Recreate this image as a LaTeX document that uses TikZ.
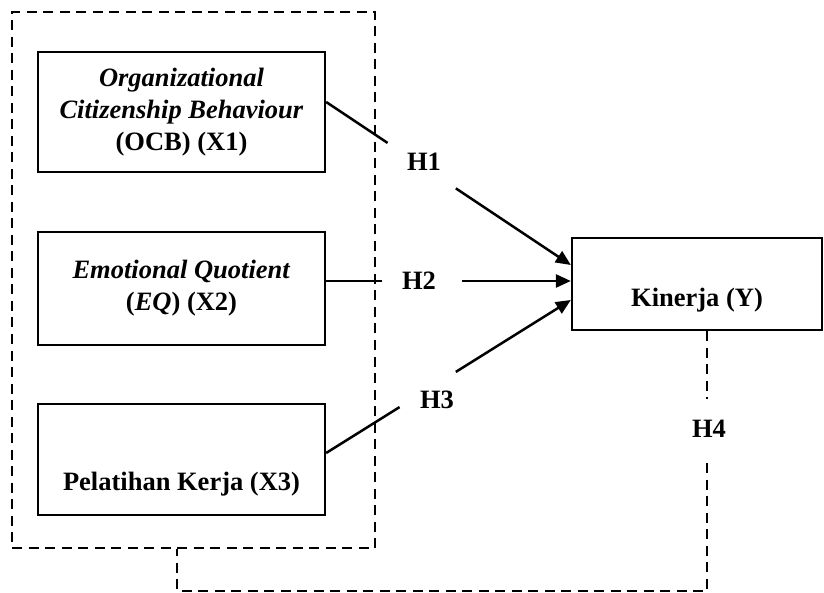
\documentclass[tikz,border=0pt]{standalone}
\usepackage{fontspec}
\setmainfont{Liberation Serif}
\usetikzlibrary{arrows.meta,calc}
\begin{document}
\begin{tikzpicture}[x=1pt,y=-1pt,
  varbox/.style={draw, line width=2.3pt, minimum width=287pt, align=center, inner sep=0pt,
    font=\bfseries\fontsize{26.5}{32}\selectfont},
  hlabel/.style={font=\bfseries\fontsize{26.5}{32}\selectfont, inner sep=0pt},
  conn/.style={line width=2.5pt},
  arr/.style={line width=2.5pt, -{Triangle[length=15pt,width=13pt]}},
  dashline/.style={line width=2.4pt, dash pattern=on 10pt off 6.5pt}]
\useasboundingbox (0,0) rectangle (824,593);
% dashed group box
\node[draw, dashline, minimum width=363pt, minimum height=536pt, inner sep=0pt] (grp) at (193.5,280) {};
% variable boxes
\node[varbox, minimum height=120pt] (x1) at (181.5,112)
  {\textit{Organizational}\\\textit{Citizenship Behaviour}\\(OCB) (X1)};
\node[varbox, minimum height=113pt] (x2) at (181.5,288.5)
  {\textit{Emotional Quotient}\\(\textit{EQ}) (X2)};
\node[varbox, minimum height=111pt, text height=67pt, text depth=6pt] (x3) at (181.5,459.5)
  {Pelatihan Kerja (X3)};
\node[varbox, minimum width=250pt, minimum height=92pt, text height=52pt, text depth=6pt] (kin) at (697,284)
  {Kinerja (Y)};
% labels
\node[hlabel] (h1) at (424,162) {H1};
\node[hlabel] (h2) at (419,281) {H2};
\node[hlabel] (h3) at (437,400) {H3};
\node[hlabel] (h4) at (709,429) {H4};
% H1
\coordinate (a1) at ($(x1.east)+(0,-10)$);
\coordinate (b1) at ($(kin.west)+(0,-19)$);
\draw[conn] (a1) -- ($(a1)!0.251!(b1)$);
\draw[arr] ($(a1)!0.53!(b1)$) -- (b1);
% H2
\coordinate (a2) at ($(x2.east)+(0,-7.5)$);
\coordinate (b2) at ($(kin.west)+(0,-3)$);
\draw[conn] (a2) -- ($(a2)!0.227!(b2)$);
\draw[arr] ($(a2)!0.555!(b2)$) -- (b2);
% H3
\coordinate (a3) at ($(x3.east)+(0,-6.5)$);
\coordinate (b3) at ($(kin.west)+(0,16)$);
\draw[conn] (a3) -- ($(a3)!0.30!(b3)$);
\draw[arr] ($(a3)!0.53!(b3)$) -- (b3);
% H4
\coordinate (k4) at ($(kin.south)+(10,0)$);
\coordinate (g4) at ($(grp.south)+(-16.5,0)$);
\draw[dashline] (k4) -- ++(0,68);
\draw[dashline] ($(k4)+(0,132)$) -- ($(k4)+(0,260)$) -| (g4);
\end{tikzpicture}
\end{document}
